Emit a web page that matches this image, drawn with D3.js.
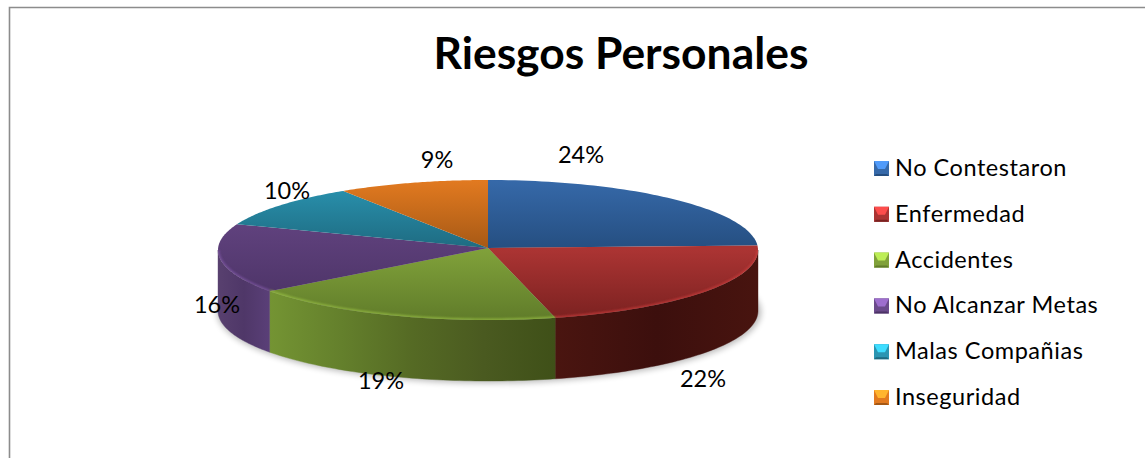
<!DOCTYPE html>
<html><head><meta charset="utf-8">
<script src="https://cdn.jsdelivr.net/npm/d3@7/dist/d3.min.js"></script>
<style>html,body{margin:0;padding:0;background:#fff;overflow:hidden}svg{display:block}text{font-family:Lato,"Open Sans",sans-serif;fill:#000}</style>
</head><body><svg id="c" width="1145" height="458"></svg>
<script>
const titleText = "Riesgos Personales";
const categories = ["No Contestaron","Enfermedad","Accidentes","No Alcanzar Metas","Malas Compañias","Inseguridad"];
const values = [24,22,19,16,10,9];
const topLight = ["#3669a9","#ab3433","#80a13a","#6b4a8b","#2a95b2","#e27a20"];
const topDark  = ["#254e80","#7a2120","#607c2a","#4c3366","#1e6a80","#a55815"];
const sideStops = [
  ["#2f5c94","#254e80"],
  ["#4a1510","#3c0f0d","#48140f"],
  ["#749433","#64802c","#556a24","#4a5a20","#3f5018"],
  ["#58406f","#4f3768","#5a3f78"],
  ["#1e6a80","#1e6a80"],
  ["#a55815","#a55815"]];
const labelPos = [[581,155],[703,379],[381,381],[217,305],[287,191],[437,160]];

const svg = d3.select("#c"), defs = svg.append("defs");
const cx=488, cy=250, apexY=248, rx=270, ry=70, depth=61;
const pie = d3.pie().sort(null).startAngle(0).endAngle(2*Math.PI)(values);
const px = a => cx + rx*Math.sin(a);
const py = (a,d=0,r=ry) => cy - r*Math.cos(a) + d;
const samples = (a0,a1) => d3.range(0,61).map(i => a0+(a1-a0)*i/60);
const line = d3.line();

// frame
svg.append("path").attr("d","M9.5,458V7.5H1145").attr("fill","none").attr("stroke","#8c8c8c").attr("stroke-width",1.6);

// title
svg.append("text").attr("x",621).attr("y",69).attr("text-anchor","middle")
  .attr("font-size",44.4).attr("font-weight",700).text(titleText);

// gradients
pie.forEach((p,i)=>{
  const g=defs.append("linearGradient").attr("id","t"+i).attr("gradientUnits","userSpaceOnUse")
    .attr("x1",0).attr("x2",0).attr("y1",cy-ry*(i==1||i==2?0:1)).attr("y2",i==1||i==2?cy+ry:(i==3?cy+ry*.75:cy));
  g.append("stop").attr("offset",0).attr("stop-color",topLight[i]);
  g.append("stop").attr("offset",1).attr("stop-color",topDark[i]);
  const a0=Math.max(p.startAngle,Math.PI/2), a1=Math.min(p.endAngle,3*Math.PI/2);
  const s=defs.append("linearGradient").attr("id","s"+i).attr("gradientUnits","userSpaceOnUse")
    .attr("x1",i==3?cx-rx:px(a1)).attr("x2",px(a0)).attr("y1",0).attr("y2",0);
  const st=sideStops[i];
  st.forEach((c,k)=>s.append("stop").attr("offset",k/(st.length-1)).attr("stop-color",c));
});
const f=defs.append("filter").attr("id","blur").attr("x","-5%").attr("y","-20%").attr("width","110%").attr("height","140%");
f.append("feGaussianBlur").attr("stdDeviation",3);
const f2=defs.append("filter").attr("id","blur2").attr("x","-5%").attr("y","-20%").attr("width","110%").attr("height","140%");
f2.append("feGaussianBlur").attr("stdDeviation",1);

// soft shadow
svg.append("ellipse").attr("cx",cx+1).attr("cy",cy+depth+1).attr("rx",rx+2).attr("ry",ry+1)
  .attr("fill","#000").attr("opacity",.28).attr("filter","url(#blur)");

// sides (front half only)
pie.forEach((p,i)=>{
  const a0=Math.max(p.startAngle,Math.PI/2), a1=Math.min(p.endAngle,3*Math.PI/2);
  if(a1<=a0) return;
  const s=samples(a0,a1);
  const pts=s.map(a=>[px(a),py(a)]).concat(s.slice().reverse().map(a=>[px(a),py(a,depth)]));
  svg.append("path").attr("d",line(pts)+"Z").attr("fill",`url(#s${i})`).attr("stroke",`url(#s${i})`).attr("stroke-width",.4);
});

// top faces
pie.forEach((p,i)=>{
  const pts=[[cx,apexY]].concat(samples(p.startAngle,p.endAngle).map(a=>[px(a),py(a)]));
  svg.append("path").attr("d",line(pts)+"Z").attr("fill",`url(#t${i})`);
});

// bevel highlight along the front rim
const rimClip=defs.append("clipPath").attr("id","rim");
rimClip.append("ellipse").attr("cx",cx).attr("cy",cy).attr("rx",rx).attr("ry",ry);
const rimG=svg.append("g").attr("clip-path","url(#rim)");
pie.forEach((p,i)=>{
  const a0=Math.max(p.startAngle,Math.PI/2), a1=Math.min(p.endAngle,3*Math.PI/2);
  if(a1<=a0) return;
  const pts=samples(a0,a1).map(a=>[px(a),py(a)]);
  rimG.append("path").attr("d",line(pts)).attr("fill","none")
    .attr("stroke",d3.color(topLight[i]).brighter(.5)).attr("stroke-width",3).attr("opacity",.75).attr("filter","url(#blur2)");
});

// percent labels
pie.forEach((p,i)=>{
  svg.append("text").attr("x",labelPos[i][0]).attr("y",labelPos[i][1]+8).attr("text-anchor","middle")
    .attr("font-size",23.5).text(values[i]+"%");
});

// legend
const ly=d3.scalePoint().domain(categories).range([168,397]);
const sw=15, lx=874;
categories.forEach((c,i)=>{
  const y=ly(c)-7, g=svg.append("g").attr("transform",`translate(${lx},${y})`);
  g.append("rect").attr("width",sw).attr("height",sw).attr("fill",topLight[i]);
  g.append("path").attr("d",`M0,0H${sw}L${sw-4},8H4Z`).attr("fill",d3.color(topLight[i]).brighter(1.1));
  g.append("path").attr("d",`M0,${sw}H${sw}L${sw-2},${sw-2}H2Z`).attr("fill",topDark[i]);
  svg.append("text").attr("x",895).attr("y",ly(c)+8).attr("font-size",23.5).attr("letter-spacing",.55).text(c);
});
</script></body></html>
